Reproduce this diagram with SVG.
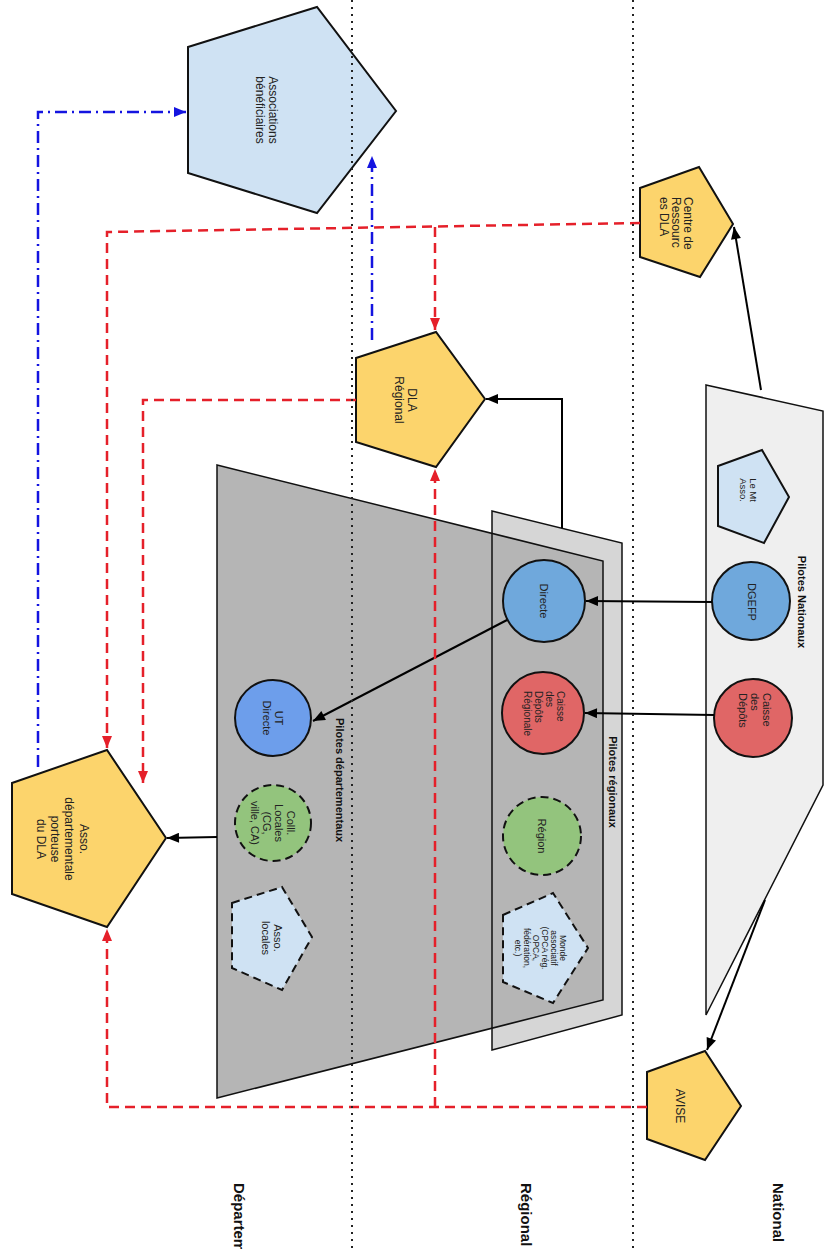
<svg xmlns="http://www.w3.org/2000/svg" width="826" height="1249" viewBox="0 0 826 1249">
<style>
.t{font-family:"Liberation Sans",Arial,sans-serif;font-size:12px;fill:#222;text-anchor:middle}
.s{text-anchor:start}
.f11{font-size:11px}
.f10{font-size:10px}
.f85{font-size:8.5px}
.f95{font-size:9.5px}
.b{font-weight:bold;fill:#111;font-size:11px}
.h{font-weight:bold;fill:#111;font-size:15px;text-anchor:start}
.yel{fill:#fcd46c;stroke:#111;stroke-width:2}
.lb{fill:#cfe2f3;stroke:#111;stroke-width:2}
.dash{stroke-dasharray:8 5}
.blu{fill:#6fa8dc;stroke:#111;stroke-width:2}
.red{fill:#e06666;stroke:#111;stroke-width:2}
.grn{fill:#93c47d;stroke:#111;stroke-width:2}
.blk{fill:none;stroke:#000;stroke-width:2}
.rd{fill:none;stroke:#e5202a;stroke-width:2.5;stroke-dasharray:10 6}
.bl{fill:none;stroke:#1414e0;stroke-width:2.5;stroke-dasharray:12 5 2 5}
.dot{fill:none;stroke:#222;stroke-width:2;stroke-dasharray:2 5}
</style>
<defs>
<marker id="ab" viewBox="0 0 12 10" refX="12" refY="5" markerWidth="13" markerHeight="10" orient="auto" markerUnits="userSpaceOnUse"><path d="M0,0 L12,5 L0,10 z" fill="#000"/></marker>
<marker id="ar" viewBox="0 0 12 10" refX="12" refY="5" markerWidth="13" markerHeight="10" orient="auto" markerUnits="userSpaceOnUse"><path d="M0,0 L12,5 L0,10 z" fill="#e5202a"/></marker>
<marker id="abl" viewBox="0 0 12 10" refX="12" refY="5" markerWidth="13" markerHeight="10" orient="auto" markerUnits="userSpaceOnUse"><path d="M0,0 L12,5 L0,10 z" fill="#1414e0"/></marker>
</defs>

<g id="planes">
<polygon id="plane-national" points="706,385 823,411 823,785 706,1015" fill="#efefef" stroke="#111" stroke-width="1.5"/>
<polygon points="492,511 622,543 622,1015 492,1050" fill="#d6d6d6" stroke="none"/>
<polygon id="plane-departemental" points="217,465 603,561 603,1000 217,1098" fill="#b5b5b5" stroke="#111" stroke-width="1.5"/>
<polygon id="plane-regional" points="492,511 622,543 622,1015 492,1050" fill="none" stroke="#111" stroke-width="1.5"/>
<text class="t b" transform="translate(798,602) rotate(90)">Pilotes Nationaux</text>
<text class="t b" transform="translate(609,782) rotate(90)">Pilotes régionaux</text>
<text class="t b s" transform="translate(336,718) rotate(90)">Pilotes départementaux</text>
</g>

<g id="n-assoc-benef">
<polygon class="lb" points="188,47 317,7 396,111 317,213 188,173"/>
<text class="t" transform="translate(268.7,110) rotate(90)">Associations</text>
<text class="t" transform="translate(255.7,110) rotate(90)">bénéficiaires</text>
</g>
<g id="n-centre">
<polygon class="yel" points="640,188 699,167 733,224 700,277 640,257"/>
<text class="t s" transform="translate(683.7,197) rotate(90)">Centre de</text>
<text class="t s" transform="translate(671.7,197) rotate(90)">Ressourc</text>
<text class="t s" transform="translate(659.7,197) rotate(90)">es DLA</text>
</g>
<g id="n-dla-regional">
<polygon class="yel" points="356,358 436,332 485,399 436,467 356,442"/>
<text class="t" transform="translate(407.7,400) rotate(90)">DLA</text>
<text class="t" transform="translate(394.7,400) rotate(90)">Régional</text>
</g>
<g id="n-asso-dep">
<polygon class="yel" points="12,783 107,750 166,838 107,927 12,894"/>
<text class="t" transform="translate(79.7,839) rotate(90)">Asso.</text>
<text class="t" transform="translate(65.4,839) rotate(90)">départementale</text>
<text class="t" transform="translate(51,839) rotate(90)">porteuse</text>
<text class="t" transform="translate(36.7,839) rotate(90)">du DLA</text>
</g>
<g id="n-avise">
<polygon class="yel" points="647,1072 705,1051 741,1106 705,1160 647,1139"/>
<text class="t" transform="translate(675.7,1106) rotate(90)">AVISE</text>
</g>
<g id="n-lemt">
<polygon class="lb" points="718,466 762,450 789,497 764,543 718,526"/>
<text class="t f95" transform="translate(749.6,490) rotate(90)">Le Mt</text>
<text class="t f95" transform="translate(739.6,490) rotate(90)">Asso.</text>
</g>
<g id="n-dgefp">
<circle class="blu" cx="751" cy="601" r="39"/>
<text class="t f11" transform="translate(748,602) rotate(90)">DGEFP</text>
</g>
<g id="n-caisse">
<circle class="red" cx="753" cy="718" r="39"/>
<text class="t f11 s" transform="translate(763,693) rotate(90)">Caisse</text>
<text class="t f11 s" transform="translate(751,693) rotate(90)">des</text>
<text class="t f11 s" transform="translate(739,693) rotate(90)">Dépôts</text>
</g>
<g id="n-directe">
<circle class="blu" cx="544" cy="601" r="41"/>
<text class="t f11" transform="translate(540,601) rotate(90)">Directe</text>
</g>
<g id="n-caisse-reg">
<circle class="red" cx="543" cy="713" r="41"/>
<text class="t f10 s" transform="translate(556.9,691) rotate(90)">Caisse</text>
<text class="t f10 s" transform="translate(545.9,691) rotate(90)">des</text>
<text class="t f10 s" transform="translate(534.9,691) rotate(90)">Dépôts</text>
<text class="t f10 s" transform="translate(523.9,691) rotate(90)">Régionale</text>
</g>
<g id="n-region">
<circle class="grn dash" cx="542" cy="836" r="39"/>
<text class="t f11" transform="translate(538,836) rotate(90)">Région</text>
</g>
<g id="n-monde">
<polygon class="lb dash" points="503,915 553,893 588,948 553,1003 503,982"/>
<text class="t f85" transform="translate(560.4,948) rotate(90)">Monde</text>
<text class="t f85" transform="translate(551.4,948) rotate(90)">associatif</text>
<text class="t f85" transform="translate(542.4,948) rotate(90)">(CPCA rég.</text>
<text class="t f85" transform="translate(533.4,948) rotate(90)">OPCA,</text>
<text class="t f85" transform="translate(524.4,948) rotate(90)">fédération,</text>
<text class="t f85" transform="translate(515.4,948) rotate(90)">etc.)</text>
</g>
<g id="n-ut-directe">
<circle cx="273" cy="718" r="38" fill="#6d9eeb" stroke="#111" stroke-width="2"/>
<text class="t f11" transform="translate(275,718) rotate(90)">UT</text>
<text class="t f11" transform="translate(263,718) rotate(90)">Directe</text>
</g>
<g id="n-coll">
<circle class="grn dash" cx="273" cy="823" r="38"/>
<text class="t f11" transform="translate(287,823) rotate(90)">Colll.</text>
<text class="t f11" transform="translate(275,823) rotate(90)">Locales</text>
<text class="t f11" transform="translate(263,823) rotate(90)">(CG,</text>
<text class="t f11" transform="translate(251,823) rotate(90)">ville, CA)</text>
</g>
<g id="n-asso-locales">
<polygon class="lb dash" points="232,903 282,887 312,937 282,990 232,968"/>
<text class="t f11" transform="translate(274,938) rotate(90)">Asso.</text>
<text class="t f11" transform="translate(262,938) rotate(90)">locales</text>
</g>

<g id="connectors">
<path class="blk" d="M712,602 L586,601" marker-end="url(#ab)"/>
<path class="blk" d="M714,715 L585,713" marker-end="url(#ab)"/>
<path class="blk" d="M507,620 L313,721" marker-end="url(#ab)"/>
<path class="blk" d="M562,528 L562,399 L486,399" marker-end="url(#ab)"/>
<path class="blk" d="M217,837 L167,838" marker-end="url(#ab)"/>
<path class="blk" d="M761,390 L734,227" marker-end="url(#ab)"/>
<path class="blk" d="M765,900 L707,1050" marker-end="url(#ab)"/>
<path class="rd" d="M640,223 L107,232 L107,748" marker-end="url(#ar)"/>
<path class="rd" d="M435,227 L435,330" marker-end="url(#ar)"/>
<path class="rd" d="M647,1107 L107,1107 L107,929" marker-end="url(#ar)"/>
<path class="rd" d="M435,1107 L435,469" marker-end="url(#ar)"/>
<path class="rd" d="M356,400 L143,400 L143,783" marker-end="url(#ar)"/>
<path class="bl" d="M38,767 L38,112 L186,112" marker-end="url(#abl)"/>
<path class="bl" d="M372,340 L372,156" marker-end="url(#abl)"/>
</g>

<g id="levels">
<line class="dot" x1="352" y1="0" x2="352" y2="1249"/>
<line class="dot" x1="633" y1="0" x2="633" y2="1249"/>
<text class="t h" transform="translate(772.6,1183) rotate(90)">National</text>
<text class="t h" transform="translate(520.6,1183) rotate(90)">Régional</text>
<text class="t h" transform="translate(233.6,1183) rotate(90)">Départemental</text>
</g>
</svg>
